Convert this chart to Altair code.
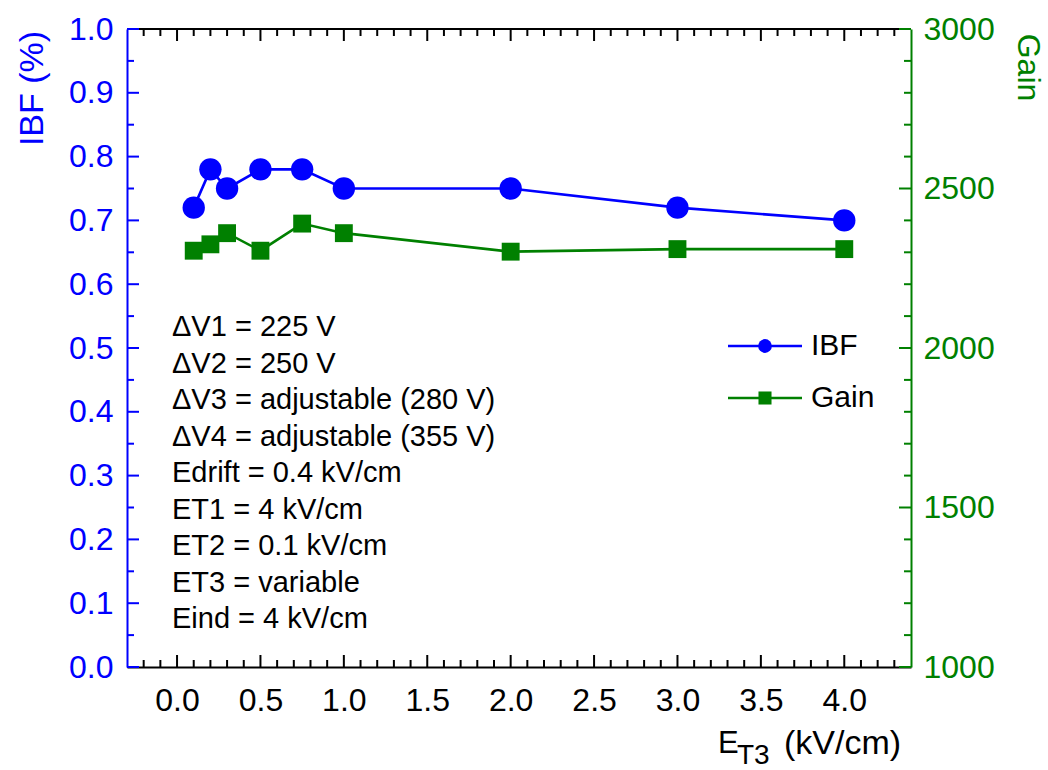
import altair as alt
import pandas as pd

# ---- data ----
et3 = [0.1, 0.2, 0.3, 0.5, 0.75, 1.0, 2.0, 3.0, 4.0]
ibf = [0.72, 0.78, 0.75, 0.78, 0.78, 0.75, 0.75, 0.72, 0.70]
gain = [2305, 2325, 2360, 2305, 2390, 2360, 2302, 2310, 2310]

x_major = [0.0, 0.5, 1.0, 1.5, 2.0, 2.5, 3.0, 3.5, 4.0]
x_minor = [-0.2, -0.1, 0.1, 0.2, 0.3, 0.4, 0.6, 0.7, 0.8, 0.9, 1.1, 1.2, 1.3, 1.4,
           1.6, 1.7, 1.8, 1.9, 2.1, 2.2, 2.3, 2.4, 2.6, 2.7, 2.8, 2.9, 3.1, 3.2,
           3.3, 3.4, 3.6, 3.7, 3.8, 3.9, 4.1, 4.2, 4.3]
ibf_major = [0.0, 0.1, 0.2, 0.3, 0.4, 0.5, 0.6, 0.7, 0.8, 0.9, 1.0]
ibf_minor = [0.05, 0.15, 0.25, 0.35, 0.45, 0.55, 0.65, 0.75, 0.85, 0.95]
gain_major = [1000, 1500, 2000, 2500, 3000]
gain_minor = [1100, 1200, 1300, 1400, 1600, 1700, 1800, 1900,
              2100, 2200, 2300, 2400, 2600, 2700, 2800, 2900]

info_lines = [
    "ΔV1 = 225 V",
    "ΔV2 = 250 V",
    "ΔV3 = adjustable (280 V)",
    "ΔV4 = adjustable (355 V)",
    "Edrift = 0.4 kV/cm",
    "ET1 = 4 kV/cm",
    "ET2 = 0.1 kV/cm",
    "ET3 = variable",
    "Eind = 4 kV/cm",
]
legend_labels = ["IBF", "Gain"]

# ---- styling ----
W, H = 784, 638
FONT = "Liberation Sans"
BLUE = "#0000ff"
GREEN = "#008000"
MAJ, MIN = 12, 7
TICKFS = 32

xs = alt.Scale(domain=[-0.3, 4.4], nice=False, zero=False)
ys_ibf = alt.Scale(domain=[0, 1], nice=False, zero=False)
ys_gain = alt.Scale(domain=[1000, 3000], nice=False, zero=False)

df = pd.DataFrame({"et3": et3, "ibf": ibf, "gain": gain})
one = pd.DataFrame({"k": [0]})

x_axis = alt.Axis(
    orient="bottom", values=x_major, format=".1f", ticks=False, grid=False,
    domainColor="black", domainWidth=2, labelColor="black", labelFont=FONT,
    labelFontSize=TICKFS, labelPadding=18, labelFlush=False, labelOverlap=False,
    title=None,
)

left_axis = alt.Axis(
    orient="left", values=ibf_major, format=".1f", ticks=False, grid=False,
    domainColor=BLUE, domainWidth=2, labelColor=BLUE, labelFont=FONT,
    labelFontSize=TICKFS, labelPadding=14, labelOverlap=False, labelFlush=False,
    title="IBF (%)", titleColor=BLUE, titleFont=FONT, titleFontSize=34,
    titleFontWeight="normal", titleAngle=270, titleX=-95, titleY=59,
    titleAlign="center", titleBaseline="middle",
)

right_axis = alt.Axis(
    orient="right", values=gain_major, format="d", ticks=False, grid=False,
    domainColor=GREEN, domainWidth=2, labelColor=GREEN, labelFont=FONT,
    labelFontSize=TICKFS, labelPadding=12, labelOverlap=False, labelFlush=False,
    title="Gain", titleColor=GREEN, titleFont=FONT, titleFontSize=32,
    titleFontWeight="normal", titleAngle=90, titleX=116, titleY=38,
    titleAlign="center", titleBaseline="middle",
)


def X(field):
    return alt.X(field, scale=xs, axis=x_axis)


def xtick_layer(vals, y0, y1):
    return alt.Chart(pd.DataFrame({"v": vals})).mark_rule(
        color="black", strokeWidth=2
    ).encode(x=X("v:Q"), y=alt.value(y0), y2=alt.value(y1))


def ytick_layer(vals, scale, x0, x1, color):
    return alt.Chart(pd.DataFrame({"v": vals})).mark_rule(
        color=color, strokeWidth=2
    ).encode(y=alt.Y("v:Q", scale=scale, axis=None), x=alt.value(x0), x2=alt.value(x1))


top_border = alt.Chart(one).mark_rule(color="black", strokeWidth=2).encode(
    x=alt.value(0), x2=alt.value(W), y=alt.value(0)
)

ibf_line = alt.Chart(df).mark_line(color=BLUE, strokeWidth=2.6).encode(
    x=X("et3:Q"),
    y=alt.Y("ibf:Q", scale=ys_ibf, axis=left_axis),
)
ibf_pts = alt.Chart(df).mark_circle(color=BLUE, size=500, opacity=1).encode(
    x=X("et3:Q"),
    y=alt.Y("ibf:Q", scale=ys_ibf, axis=None),
)
gain_line = alt.Chart(df).mark_line(color=GREEN, strokeWidth=2.6).encode(
    x=X("et3:Q"),
    y=alt.Y("gain:Q", scale=ys_gain, axis=right_axis),
)
gain_pts = alt.Chart(df).mark_square(color=GREEN, size=320, opacity=1).encode(
    x=X("et3:Q"),
    y=alt.Y("gain:Q", scale=ys_gain, axis=None),
)

info = alt.Chart(one).mark_text(
    align="left", baseline="middle", font=FONT, fontSize=29, lineHeight=36.5, color="black"
).encode(x=alt.value(45), y=alt.value(298), text=alt.value(info_lines))

# legend
leg = []
for lab, col, yy, shape, sz in [(legend_labels[0], BLUE, 317, "circle", 190),
                                (legend_labels[1], GREEN, 369, "square", 170)]:
    leg.append(alt.Chart(one).mark_rule(color=col, strokeWidth=2.4).encode(
        x=alt.value(601), x2=alt.value(675), y=alt.value(yy)))
    leg.append(alt.Chart(one).mark_point(shape=shape, filled=True, color=col, size=sz, opacity=1).encode(
        x=alt.value(638), y=alt.value(yy)))
    leg.append(alt.Chart(one).mark_text(align="left", baseline="middle", font=FONT,
                                        fontSize=30, color="black").encode(
        x=alt.value(684), y=alt.value(yy), text=alt.value(lab)))

# x-axis title with subscript
xt = [
    alt.Chart(one).mark_text(align="left", baseline="alphabetic", font=FONT, fontSize=31,
                             color="black").encode(x=alt.value(591), y=alt.value(724), text=alt.value("E")),
    alt.Chart(one).mark_text(align="left", baseline="alphabetic", font=FONT, fontSize=28,
                             color="black").encode(x=alt.value(610), y=alt.value(735), text=alt.value("T3")),
    alt.Chart(one).mark_text(align="left", baseline="alphabetic", font=FONT, fontSize=34,
                             color="black").encode(x=alt.value(657), y=alt.value(725), text=alt.value("(kV/cm)")),
]

layers = [
    ibf_line,
    gain_line,
    top_border,
    xtick_layer(x_major, H, H - MAJ),
    xtick_layer(x_minor, H, H - MIN),
    xtick_layer(x_major, 0, MAJ),
    xtick_layer(x_minor, 0, MIN),
    ytick_layer(ibf_major, ys_ibf, 0, MAJ, BLUE),
    ytick_layer(ibf_minor, ys_ibf, 0, MIN, BLUE),
    ytick_layer(gain_major, ys_gain, W - MAJ, W, GREEN),
    ytick_layer(gain_minor, ys_gain, W - MIN, W, GREEN),
    ibf_pts,
    gain_pts,
    info,
] + leg + xt

chart = alt.layer(*layers).resolve_scale(y="independent").properties(
    width=W, height=H,
    autosize=alt.AutoSizeParams(type="none"),
    padding={"left": 127, "top": 29, "right": 137, "bottom": 103},
    background="white",
).configure_view(stroke=None)

chart.save("out.html", embed_options={"renderer": "svg", "actions": False})
